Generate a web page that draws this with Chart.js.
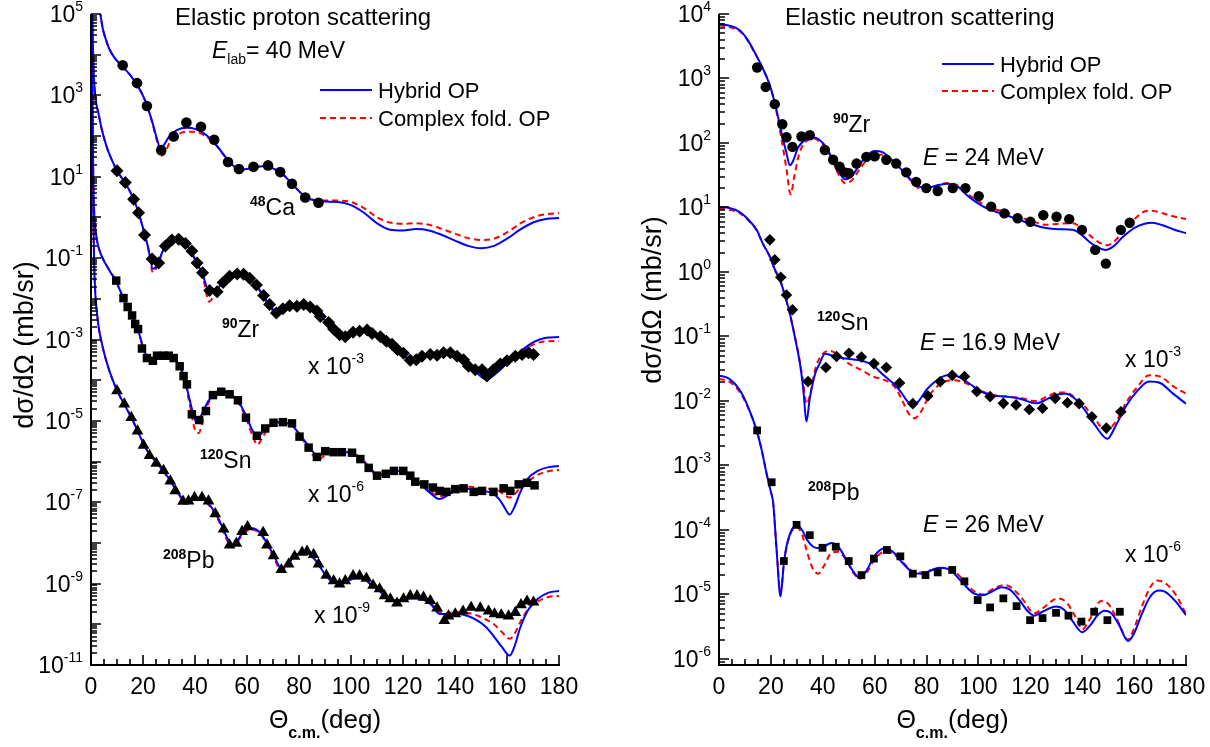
<!DOCTYPE html>
<html>
<head>
<meta charset="utf-8">
<script src="https://cdn.jsdelivr.net/npm/chart.js@4"></script>
<style>
body { margin: 0; background: #fff; width: 1210px; height: 747px; overflow: hidden; position: relative; }
canvas { position: absolute; top: 0; }
</style>
</head>
<body>
<canvas id="protonChart" width="605" height="747" style="left:0"></canvas>
<canvas id="neutronChart" width="605" height="747" style="left:605px"></canvas>
<script>
/*######################## datos: protones 40 MeV ########################*/
// [angulo c.m. (deg), dsigma/dOmega (mb/sr) ya escalado]
const ca48Exp = [[12.2,5500],[17.7,2000],[21.5,550],[27,45],[31.8,98],[36.7,215],[42.3,170],[47.4,81],[52.7,23],[56.9,15.5],[62.5,17.5],[68.1,19],[72.8,13],[77.3,6.7],[82.4,3.1],[87.5,2.3]];
const ca48Hybrid = [[3.4,1.2e5],[4.5,4.5e4],[5.5,2.6e4],[7,1.4e4],[9,8.5e3],[12,5.2e3],[15,3.2e3],[18,1.7e3],[21,700],[23.5,230],[25.5,80],[26.6,50],[28,60],[30,95],[33,140],[37,160],[40,150],[44,110],[48,62],[52,29],[55,18],[58,15],[62,16.5],[66,18],[70,16],[74,11],[78,6],[82,3.4],[86,2.6],[90,2.45],[95,2.4],[100,2.0],[105,1.3],[110,0.72],[115,0.5],[120,0.48],[125,0.52],[130,0.48],[135,0.37],[140,0.27],[145,0.2],[150,0.175],[155,0.2],[160,0.3],[165,0.5],[170,0.75],[175,0.92],[180,0.97]];
const ca48Folded = [[3.4,1.2e5],[4.5,4.5e4],[5.5,2.6e4],[7,1.4e4],[9,8.5e3],[12,5.2e3],[15,3.2e3],[18,1.7e3],[21,700],[23.5,220],[25.5,70],[26.9,33],[28.5,38],[30,65],[33,105],[37,128],[40,128],[44,100],[48,60],[52,29],[55,18],[58,15],[62,16.5],[66,18],[70,16],[74,11],[78,6],[82,3.4],[86,2.7],[90,2.6],[95,2.6],[100,2.4],[105,1.7],[110,1.0],[115,0.75],[120,0.7],[125,0.72],[130,0.66],[135,0.52],[140,0.4],[145,0.31],[150,0.28],[155,0.3],[160,0.43],[165,0.7],[170,1.0],[175,1.2],[180,1.28]];

const zr90pExp = [[10,14],[13.2,7.2],[16.4,2.8],[18.3,1.3],[20.6,0.37],[23.5,0.095],[26,0.076],[28.6,0.2],[31.1,0.28],[33.7,0.29],[36.3,0.23],[38.8,0.15],[40.8,0.076],[42.9,0.044],[45.6,0.016],[48.5,0.015],[50.8,0.025],[53.3,0.036],[56.2,0.041],[58.7,0.04],[61,0.032],[63.6,0.022],[66.4,0.012],[68.7,0.0072],[71.3,0.0045],[73.8,0.0057],[76.4,0.0068],[79.2,0.0066],[81.8,0.0072],[84.3,0.0063],[86.9,0.005],[88.2,0.0037],[91.4,0.0026],[93.3,0.0018],[95.6,0.0013],[97.8,0.00117],[100.8,0.0015],[103.3,0.0016],[106.2,0.0017],[108.1,0.0014],[111.3,0.00117],[113.6,0.00091],[115.8,0.00076],[117.9,0.00056],[120.2,0.00046],[122.8,0.00031],[125.1,0.00032],[127.3,0.00039],[130.5,0.00043],[133.1,0.00041],[135.6,0.00047],[138.2,0.00047],[140.8,0.00039],[143.3,0.00032],[145.2,0.00022],[147.8,0.00018],[150.4,0.00018],[152.3,0.000126],[154.8,0.00018],[157.4,0.00025],[160,0.0003],[163.2,0.00039],[165.8,0.00043],[168.3,0.00047],[170.2,0.00043]];
const zr90pHybrid = [[0.4,1.5e5],[0.7,2e4],[1,4e3],[1.5,1.2e3],[2,650],[2.8,380],[4,160],[6,55],[8,26],[10,14],[13,7.3],[16,3.2],[18,1.5],[20,0.55],[22,0.18],[23.8,0.055],[25,0.06],[26.5,0.1],[28,0.17],[31,0.27],[34,0.28],[37,0.21],[40,0.095],[43,0.038],[45.5,0.015],[48,0.016],[51,0.028],[54,0.039],[57,0.042],[60,0.035],[63,0.024],[66,0.013],[69,0.0066],[71.5,0.0047],[74,0.0052],[77,0.0064],[80,0.0066],[83,0.006],[86,0.0049],[89,0.0034],[92,0.0022],[95,0.0014],[98,0.0012],[101,0.0014],[104,0.0016],[107,0.0015],[110,0.0012],[114,0.00083],[118,0.00055],[122,0.00034],[125,0.00032],[128,0.00037],[132,0.00041],[136,0.00043],[140,0.00037],[144,0.00026],[148,0.00016],[152,0.000105],[156,0.00015],[160,0.00026],[165,0.0005],[170,0.00085],[175,0.0011],[180,0.00115]];
const zr90pFolded = [[0.4,1.5e5],[0.7,2e4],[1,4e3],[1.5,1.2e3],[2,650],[2.8,380],[4,160],[6,55],[8,26],[10,14],[13,7.3],[16,3.2],[18,1.5],[20,0.55],[22,0.17],[23.8,0.045],[25,0.055],[26.5,0.095],[28,0.16],[31,0.26],[34,0.27],[37,0.2],[40,0.09],[43,0.034],[45.5,0.0085],[47,0.011],[49,0.018],[51,0.026],[54,0.037],[57,0.04],[60,0.034],[63,0.023],[66,0.012],[69,0.006],[71.5,0.0045],[74,0.0052],[77,0.0064],[80,0.0066],[83,0.006],[86,0.0049],[89,0.0034],[92,0.0022],[95,0.0014],[98,0.0012],[101,0.0014],[104,0.0016],[107,0.0015],[110,0.0012],[114,0.00083],[118,0.00055],[122,0.00035],[125,0.00034],[128,0.00038],[132,0.00042],[136,0.00044],[140,0.00038],[144,0.00027],[148,0.00017],[152,0.00012],[156,0.00016],[160,0.00026],[165,0.00048],[170,0.00075],[175,0.0009],[180,0.00092]];

const sn120pExp = [[9.7,0.028],[12.5,0.0104],[14.1,0.0063],[15.8,0.0039],[17,0.0024],[18.1,0.0018],[19.6,0.0006],[21.5,0.00035],[23.8,0.0003],[25.4,0.0004],[27.9,0.0004],[29.9,0.0004],[31.8,0.00035],[34.1,0.00022],[35.6,0.000126],[36.9,0.000079],[38.8,1.45e-5],[41.6,1.05e-5],[44.2,1.75e-5],[46.9,4.3e-5],[50.1,5.2e-5],[53.3,4.5e-5],[56.5,3.2e-5],[59.6,1.2e-5],[63.8,4.3e-6],[67,6.5e-6],[70.2,9e-6],[73.8,9.3e-6],[77.3,8.7e-6],[80.2,4.1e-6],[83.7,2.2e-6],[86.9,1.3e-6],[90.1,1.8e-6],[93.3,1.7e-6],[96.5,1.7e-6],[100.4,1.65e-6],[103.6,1.15e-6],[106.8,7e-7],[110,4.5e-7],[113.4,5e-7],[116.5,5.9e-7],[120.1,5.9e-7],[122.8,4.5e-7],[124.7,3.2e-7],[128.2,2.75e-7],[131.5,2.3e-7],[134.1,1.9e-7],[136.7,1.8e-7],[140.1,2.1e-7],[143.3,2.2e-7],[147.2,1.8e-7],[150.4,1.9e-7],[154.8,1.8e-7],[158.7,2.2e-7],[161.3,1.9e-7],[164.5,2.75e-7],[167.7,3e-7],[170.6,2.6e-7]];
const sn120pHybrid = [[0.35,1.5e5],[0.6,300],[0.9,8],[1.3,1],[1.8,0.45],[2.6,0.22],[3.6,0.135],[5,0.085],[6.5,0.058],[8,0.04],[9.5,0.029],[11,0.017],[12.5,0.0105],[14,0.0066],[15.5,0.0042],[17,0.0026],[18.5,0.0014],[20,6.5e-4],[21.5,3.8e-4],[23,3e-4],[25,3.3e-4],[28,4e-4],[31,3.7e-4],[34,2.3e-4],[36,1.1e-4],[38,3.2e-5],[40,1.05e-5],[41,9e-6],[42.5,1.4e-5],[45,3e-5],[48,4.8e-5],[51,5.3e-5],[54,4.5e-5],[57,2.8e-5],[60,1.2e-5],[62,6e-6],[64,4.2e-6],[66,5.2e-6],[69,8e-6],[72,9.3e-6],[75,9e-6],[78,7e-6],[81,4e-6],[84,2.3e-6],[87,1.4e-6],[90,1.6e-6],[94,1.75e-6],[98,1.7e-6],[101,1.55e-6],[104,1.15e-6],[107,7e-7],[110,4.7e-7],[113,4.8e-7],[117,5.8e-7],[120,5.9e-7],[123,4.5e-7],[126,3e-7],[130,1.8e-7],[134,1.2e-7],[138,1.6e-7],[142,2.2e-7],[146,2.1e-7],[150,1.9e-7],[154,1.7e-7],[157,1.2e-7],[159,7.5e-8],[161,5e-8],[163,8e-8],[165,1.7e-7],[168,3.8e-7],[172,6e-7],[176,7.3e-7],[180,7.8e-7]];
const sn120pFolded = [[0.35,1.5e5],[0.6,300],[0.9,8],[1.3,1],[1.8,0.45],[2.6,0.22],[3.6,0.135],[5,0.085],[6.5,0.058],[8,0.04],[9.5,0.029],[11,0.017],[12.5,0.0105],[14,0.0066],[15.5,0.0042],[17,0.0026],[18.5,0.0014],[20,6.5e-4],[21.5,3.8e-4],[23,3e-4],[25,3.2e-4],[28,3.9e-4],[31,3.6e-4],[34,2.2e-4],[36,1e-4],[38,2.5e-5],[40,6e-6],[41.4,5e-6],[43,1e-5],[45,2.6e-5],[48,4.6e-5],[51,5.2e-5],[54,4.4e-5],[57,2.6e-5],[60,1e-5],[62,4.5e-6],[64,2.6e-6],[66,4e-6],[69,7.5e-6],[72,9.3e-6],[75,9e-6],[78,7e-6],[81,3.8e-6],[84,2e-6],[87,1.1e-6],[90,1.4e-6],[94,1.75e-6],[98,1.75e-6],[101,1.6e-6],[104,1.2e-6],[107,7.5e-7],[110,5e-7],[113,5e-7],[117,5.9e-7],[120,6e-7],[123,4.7e-7],[126,3.2e-7],[130,2e-7],[134,1.4e-7],[138,1.8e-7],[142,2.3e-7],[146,2.4e-7],[150,2.2e-7],[154,2.1e-7],[157,1.9e-7],[159,1.5e-7],[161,1.3e-7],[163,1.6e-7],[165,2.2e-7],[168,3.2e-7],[172,4.8e-7],[176,5.8e-7],[180,6.2e-7]];

const pb208pExp = [[10,5.5e-5],[12.8,2.6e-5],[15.5,1.2e-5],[17.9,5.6e-6],[20.2,2.5e-6],[22.5,1.4e-6],[25.1,9e-7],[27.9,6e-7],[30.5,3.3e-7],[32.4,1.9e-7],[35.4,1.05e-7],[37.5,1.07e-7],[39.8,1.3e-7],[42.7,1.3e-7],[45.2,1.07e-7],[47.8,5.2e-8],[51,2.2e-8],[53.3,8.9e-9],[55.9,9.8e-9],[58.1,1.9e-8],[60.2,2.5e-8],[66.2,1.8e-8],[67.7,8.9e-9],[70.2,4.8e-9],[73.2,2.2e-9],[76,3e-9],[78.3,4.7e-9],[81.2,5.9e-9],[83.1,6.2e-9],[85.6,5.2e-9],[87.5,3e-9],[90.5,1.6e-9],[93.3,1.17e-9],[95.6,9.8e-10],[97.8,1.17e-9],[100.8,1.55e-9],[103.3,1.55e-9],[105.9,1.35e-9],[108.5,9.1e-10],[111,7.4e-10],[112.9,5e-10],[115.1,4.2e-10],[117.7,3.3e-10],[120.2,4.2e-10],[122.8,5e-10],[125.4,5e-10],[127.9,4.6e-10],[130.5,3.8e-10],[133.1,2.5e-10],[135.9,1.23e-10],[137.5,1.6e-10],[140.1,1.8e-10],[143.1,2.1e-10],[146.2,2.6e-10],[149.7,2.5e-10],[152.9,2.1e-10],[155.2,1.8e-10],[157.8,1.7e-10],[160.6,1.6e-10],[163.2,1.95e-10],[165.4,3e-10],[167.7,3.7e-10],[170.2,3.5e-10]];
const pb208pHybrid = [[0.25,1.5e5],[0.5,300],[0.8,3],[1.2,0.08],[1.7,0.012],[2.3,0.0045],[3,0.0019],[4,9e-4],[5,4.8e-4],[6,2.8e-4],[8,1.15e-4],[10,5.6e-5],[13,2.4e-5],[16,1.05e-5],[19,4e-6],[22,1.7e-6],[25,1e-6],[28,5.8e-7],[31,3e-7],[34,1.5e-7],[37,1.1e-7],[40,1.25e-7],[43,1.2e-7],[46,8e-8],[49,4e-8],[52,1.5e-8],[54,9e-9],[56,1.1e-8],[59,2e-8],[62,2.3e-8],[65,1.8e-8],[68,9e-9],[71,4e-9],[73,2.4e-9],[75,2.7e-9],[78,4.5e-9],[81,5.8e-9],[84,5.3e-9],[87,3.3e-9],[90,1.7e-9],[93,1.1e-9],[96,1e-9],[99,1.2e-9],[102,1.35e-9],[105,1.3e-9],[108,9e-10],[111,6.5e-10],[114,4.5e-10],[117,3.8e-10],[120,4e-10],[124,4.4e-10],[128,4e-10],[131,3e-10],[134,1.8e-10],[137,1.8e-10],[141,1.8e-10],[145,1.6e-10],[149,1.2e-10],[152,8.5e-11],[155,5e-11],[158,2.8e-11],[161,1.7e-11],[163,3e-11],[165,8e-11],[168,2.2e-10],[172,4.3e-10],[176,6e-10],[180,6.6e-10]];
const pb208pFolded = [[0.25,1.5e5],[0.5,300],[0.8,3],[1.2,0.08],[1.7,0.012],[2.3,0.0045],[3,0.0019],[4,9e-4],[5,4.8e-4],[6,2.8e-4],[8,1.15e-4],[10,5.6e-5],[13,2.4e-5],[16,1.05e-5],[19,4e-6],[22,1.7e-6],[25,1e-6],[28,5.6e-7],[31,2.9e-7],[34,1.4e-7],[37,1e-7],[40,1.15e-7],[43,1.12e-7],[46,7.5e-8],[49,3.6e-8],[52,1.3e-8],[54,8e-9],[56,1e-8],[59,1.8e-8],[62,2.1e-8],[65,1.7e-8],[68,8.5e-9],[71,3.5e-9],[73,2.1e-9],[75,2.5e-9],[78,4.4e-9],[81,5.7e-9],[84,5.3e-9],[87,3.3e-9],[90,1.7e-9],[93,1.1e-9],[96,1e-9],[99,1.2e-9],[102,1.35e-9],[105,1.3e-9],[108,9e-10],[111,6.5e-10],[114,4.6e-10],[117,3.9e-10],[120,4.1e-10],[124,4.5e-10],[128,4.1e-10],[131,3.1e-10],[134,2e-10],[137,1.9e-10],[141,2e-10],[145,1.9e-10],[149,1.6e-10],[152,1.3e-10],[155,1e-10],[158,6.5e-11],[161,4.4e-11],[163,6e-11],[165,1.1e-10],[168,2.3e-10],[172,3.7e-10],[176,4.7e-10],[180,5e-10]];

/*######################## datos: neutrones ########################*/
const zr90nExp = [[14.7,1480],[18,740],[21.5,400],[24.4,195],[26,123],[28.3,87],[31.8,126],[35,132],[40.8,78],[44,55],[46.5,43],[48.5,35],[50.1,34],[53,48],[56.8,61],[60,62],[64.5,55],[68.3,48],[72.2,35],[76,25],[79.9,20],[84.3,18],[90.1,20],[95,20],[100.1,15],[104.9,10.3],[110,8.1],[115.1,6.8],[120,6],[125,7.6],[130.1,7.2],[135,6.6],[139.9,4.5],[145,2.2],[149.1,1.35],[154.9,4.5],[158.3,5.8]];
const zr90nHybrid = [[0,7000],[4,6600],[8,5600],[11,4000],[13.2,2800],[16,1700],[18.3,1070],[20,700],[22.2,320],[24,150],[26,70],[27.3,45],[28.5,52],[30.5,85],[33,110],[36.3,123],[40,100],[43,65],[46,37],[48.5,27.5],[51,30],[54,45],[57,64],[60,75],[63,72],[66,58],[70,40],[74,27],[77.3,21],[80,20],[84,22],[88.2,23.4],[92,21],[96,15],[100,11.5],[103,9.8],[107,8.5],[110.7,7.6],[115,6.6],[120,5.6],[126,4.8],[131,4.6],[136.3,4.5],[140,3.7],[142.7,2.95],[146,2.4],[149,2.2],[152,2.5],[156,3.6],[160,4.8],[164,5.6],[167,5.8],[171,5.3],[175,4.6],[180,4.0]];
const zr90nFolded = [[0,6700],[4,6300],[8,5400],[11,3900],[13.2,2750],[16,1700],[18.3,1070],[20,700],[22.2,300],[24,120],[26,40],[27.6,16],[29,30],[31,70],[33.5,105],[36,118],[40,95],[43,62],[46,33],[48.5,24],[51,26],[54,38],[57,55],[60,65],[63,66],[66,55],[70,40],[74,26],[77.3,20],[80,20],[84,22],[88,24],[92,22],[96,16],[100,12.5],[103,10.5],[106,9.5],[109.4,8.7],[115,7.3],[120,6.3],[126,5.4],[131,5.6],[136.3,5.7],[140,4.7],[144,3.4],[147,2.8],[149.7,2.6],[152,2.9],[156,4.3],[160,6.5],[163,8.3],[165.8,8.9],[169,8.6],[173,7.7],[177,7.0],[180,6.6]];

const sn120nExp = [[19.6,3.15],[21.5,1.55],[23.8,0.83],[26,0.44],[28.3,0.26],[34.3,0.02],[41.2,0.033],[45.3,0.049],[50.1,0.055],[54.9,0.048],[59.7,0.038],[64.5,0.033],[69.6,0.019],[74.7,0.0091],[80.5,0.012],[85.3,0.02],[89.9,0.025],[94.6,0.024],[99.4,0.014],[104.5,0.0117],[109.6,0.0092],[114.5,0.0087],[119.6,0.0074],[124.7,0.0077],[129.6,0.011],[134.3,0.0094],[138.8,0.0091],[143.7,0.0057],[149.3,0.0038],[154.9,0.0068]];
const sn120nHybrid = [[0,10.2],[4,9.8],[8,8.5],[11,6.7],[14.5,4.5],[17,2.7],[19.6,1.75],[21.5,1.1],[23.5,0.76],[25.5,0.42],[27.3,0.23],[29.3,0.095],[31.2,0.038],[32.5,0.015],[33.7,0.0048],[35,0.011],[37,0.026],[38.8,0.038],[40.8,0.054],[44,0.05],[48,0.046],[52,0.044],[56,0.041],[59.3,0.036],[63,0.026],[67,0.019],[70,0.014],[72.5,0.01],[74.7,0.0087],[77,0.01],[80,0.015],[84,0.021],[88,0.025],[90.1,0.025],[93,0.023],[97,0.018],[101,0.014],[105,0.0123],[110.7,0.0117],[116,0.0108],[122.2,0.0092],[127,0.011],[130,0.0125],[133.7,0.013],[137,0.011],[141,0.0072],[145,0.0042],[149.7,0.0026],[153,0.0042],[157,0.0085],[161,0.014],[165.8,0.02],[170,0.019],[175,0.013],[180,0.0091]];
const sn120nFolded = [[0,9.6],[4,9.2],[8,8.2],[11,6.5],[14.5,4.4],[17,2.7],[19.6,1.7],[21.5,1.08],[23.5,0.74],[25.5,0.42],[27.3,0.22],[29.3,0.1],[31.2,0.04],[32.5,0.019],[33.7,0.009],[35,0.012],[37,0.03],[39,0.048],[42.7,0.06],[46,0.052],[50,0.038],[55,0.03],[59.3,0.024],[64,0.021],[68,0.016],[71,0.0095],[73,0.0065],[75.4,0.0054],[78,0.007],[81,0.012],[85,0.018],[90.1,0.021],[95,0.019],[100,0.015],[105,0.0125],[110.7,0.0117],[116,0.0112],[122,0.01],[127,0.012],[130,0.0135],[133.7,0.0135],[137,0.0115],[141,0.0082],[145,0.0052],[149,0.0035],[153,0.0048],[157,0.0095],[161,0.016],[165.8,0.025],[170,0.024],[175,0.017],[180,0.013]];

const pb208nExp = [[14.7,0.0035],[20.3,5.5e-4],[25,3.3e-5],[29.9,1.2e-4],[35,8.3e-5],[39.9,5.3e-5],[45,5.5e-5],[50,3.3e-5],[54.9,2e-5],[59.7,3.6e-5],[64.7,4.9e-5],[69.9,3.9e-5],[74.7,2.1e-5],[79.6,2e-5],[84.3,2.2e-5],[89.9,2.4e-5],[94.6,1.6e-5],[99.7,8.2e-6],[104.5,6.3e-6],[109.6,8.7e-6],[114.7,6.6e-6],[119.9,4e-6],[124.7,4.3e-6],[129.9,5.2e-6],[134.7,4.7e-6],[139.7,3.8e-6],[144.6,5.4e-6],[149.7,4e-6],[154.5,5.4e-6]];
const pb208nHybrid = [[0,0.025],[4,0.022],[8,0.0148],[11,0.0085],[14.5,0.0035],[16.5,0.0017],[18.3,7.6e-4],[20,3.9e-4],[20.9,2.6e-4],[22.2,4.9e-5],[23.7,9.3e-6],[25,3e-5],[26,5.5e-5],[28,1e-4],[29.9,1.2e-4],[32,1e-4],[34,7e-5],[36.3,5.5e-5],[39,5.2e-5],[43.3,6.3e-5],[46,5.5e-5],[49,3.5e-5],[52,2.2e-5],[54.2,1.8e-5],[57,2.4e-5],[60,4e-5],[63.8,5.2e-5],[67,4.6e-5],[71,3e-5],[74.7,2.2e-5],[78,2.1e-5],[81,2.3e-5],[85,2.6e-5],[89,2.4e-5],[94,1.5e-5],[98,1.05e-5],[101.7,9.7e-6],[105,1.1e-5],[108.7,1.3e-5],[112,1.2e-5],[116,8e-6],[119,5.5e-6],[121.5,4.7e-6],[125,5.5e-6],[129.9,6.5e-6],[133,5.8e-6],[136,4e-6],[140.1,2.6e-6],[143,3.3e-6],[146,4.8e-6],[148.5,5.6e-6],[151,5.2e-6],[154,3.5e-6],[157.7,1.9e-6],[160,2.5e-6],[163,5e-6],[166,9e-6],[169.4,1.15e-5],[172,1.1e-5],[176,7.8e-6],[180,4.8e-6]];
const pb208nFolded = [[0,0.022],[4,0.02],[8,0.0138],[11,0.0082],[14.5,0.0035],[16.5,0.0017],[18.3,7.6e-4],[20,3.9e-4],[20.9,2.6e-4],[22.2,5e-5],[23.7,1.1e-5],[25,3e-5],[26,5.3e-5],[28,9.5e-5],[29.9,1.12e-4],[32,8.5e-5],[34,4.5e-5],[36,2.6e-5],[38.2,2.1e-5],[40.5,2.8e-5],[43.3,4.4e-5],[46,4.6e-5],[49,3.4e-5],[52,2.1e-5],[54.5,1.75e-5],[57,2.2e-5],[60,3.5e-5],[63.8,4.6e-5],[67,4.3e-5],[71,3.1e-5],[74.7,2.3e-5],[78,2.2e-5],[82,2.4e-5],[86,2.6e-5],[90,2.4e-5],[94,1.7e-5],[98,1.15e-5],[101.7,1e-5],[106,1.25e-5],[110,1.4e-5],[113,1.25e-5],[117,8.5e-6],[121.5,5.1e-6],[125,6.2e-6],[130.5,8.7e-6],[134,7.5e-6],[137,4.8e-6],[140.1,2.9e-6],[143,4.2e-6],[147.2,7.9e-6],[150,7.2e-6],[153,4.5e-6],[157.7,2e-6],[160,3e-6],[163,6.5e-6],[166,1.25e-5],[168.7,1.65e-5],[172,1.5e-5],[176,1e-5],[180,5e-6]];

// ejes
const angleTicks = [0, 20, 40, 60, 80, 100, 120, 140, 160, 180];
const protonDecadeLabels = [5, 3, 1, -1, -3, -5, -7, -9, -11];
const neutronDecadeLabels = [4, 3, 2, 1, 0, -1, -2, -3, -4, -5, -6];

const FONT = "'Liberation Sans', Arial, Helvetica, sans-serif";
const BLUE = '#0000ff';
const RED = '#ff0000';

function xy(arr) { return arr.map(p => ({ x: p[0], y: p[1] })); }

function expSet(arr, style, radius) {
	return { type: 'scatter', data: xy(arr), pointStyle: style, pointRadius: radius, pointHoverRadius: radius,
		backgroundColor: '#000', borderColor: '#000', borderWidth: 0, showLine: false, order: 0 };
}
function curveSet(arr, color, dash) {
	return { type: 'line', data: xy(arr), borderColor: color, borderWidth: 2, borderDash: dash,
		pointRadius: 0, fill: false, cubicInterpolationMode: 'monotone', order: 1 };
}

function fontOf(p) {
	return (p.i ? 'italic ' : '') + (p.b ? 'bold ' : '') + p.s + 'px ' + FONT;
}
// texto con sub/superindices: parts = [{t, s, b, i, dy}]
function drawParts(ctx, x, y, parts, align) {
	let total = 0;
	parts.forEach(p => { ctx.font = fontOf(p); p.w = ctx.measureText(p.t).width; total += p.w; });
	let cx = align === 'right' ? x - total : align === 'center' ? x - total / 2 : x;
	parts.forEach(p => { ctx.font = fontOf(p); ctx.fillText(p.t, cx, y + (p.dy || 0)); cx += p.w; });
}

// ejes al estilo Origin: solo izquierda y abajo, marcas hacia dentro
const sciAxes = {
	id: 'sciAxes',
	afterDatasetsDraw(chart, args, o) {
		const ctx = chart.ctx, a = chart.chartArea, xs = chart.scales.x, ys = chart.scales.y;
		ctx.save();
		ctx.strokeStyle = '#000';
		ctx.fillStyle = '#000';
		ctx.lineWidth = 2;
		ctx.beginPath();
		ctx.moveTo(a.left, a.top);
		ctx.lineTo(a.left, a.bottom);
		ctx.lineTo(a.right + 1, a.bottom);
		ctx.stroke();

		ctx.lineWidth = 1.6;
		ctx.beginPath();
		for (let v = 0; v <= 180; v += 5) {
			const px = Math.round(xs.getPixelForValue(v));
			const len = v % 20 === 0 ? 10 : 6;
			ctx.moveTo(px, a.bottom);
			ctx.lineTo(px, a.bottom - len);
		}
		const lo = Math.floor(Math.log10(ys.min)), hi = Math.ceil(Math.log10(ys.max));
		for (let e = lo; e <= hi; e++) {
			for (let m = 1; m < 10; m++) {
				const v = m * Math.pow(10, e);
				if (v < ys.min * 0.999 || v > ys.max * 1.001) continue;
				const py = Math.round(ys.getPixelForValue(v));
				ctx.moveTo(a.left, py);
				ctx.lineTo(a.left + (m === 1 ? 10 : 6), py);
			}
		}
		ctx.stroke();

		ctx.textBaseline = 'alphabetic';
		ctx.textAlign = 'left';
		angleTicks.forEach(v => {
			drawParts(ctx, xs.getPixelForValue(v), a.bottom + 29, [{ t: String(v), s: 23 }], 'center');
		});
		o.decades.forEach(e => {
			const py = ys.getPixelForValue(Math.pow(10, e));
			drawParts(ctx, a.left - 8, py + 8, [{ t: '10', s: 23 }, { t: String(e), s: 14, dy: -11 }], 'right');
		});

		// titulos de ejes
		const cx = (a.left + a.right) / 2;
		drawParts(ctx, cx, a.bottom + 63, [
			{ t: '\u0398', s: 25 }, { t: 'c.m.', s: 16, b: true, dy: 10 }, { t: '(deg)', s: 26 }
		], 'center');
		ctx.translate(o.yTitle[0], o.yTitle[1]);
		ctx.rotate(-Math.PI / 2);
		drawParts(ctx, 0, 0, [{ t: 'd\u03c3/d\u03a9 (mb/sr)', s: 27 }], 'center');
		ctx.restore();
	}
};

// textos, leyenda y etiquetas de nucleos
const notesPlugin = {
	id: 'notes',
	afterDraw(chart, args, o) {
		const ctx = chart.ctx;
		ctx.save();
		ctx.fillStyle = '#000';
		ctx.textBaseline = 'alphabetic';
		ctx.textAlign = 'left';
		o.items.forEach(n => drawParts(ctx, n.x, n.y, n.parts, n.align || 'left'));
		o.legend.forEach(l => {
			ctx.strokeStyle = l.color;
			ctx.lineWidth = 2;
			ctx.setLineDash(l.dash);
			ctx.beginPath();
			ctx.moveTo(l.x, l.y);
			ctx.lineTo(l.x + 52, l.y);
			ctx.stroke();
			ctx.setLineDash([]);
			drawParts(ctx, l.x + 58, l.y + 8, [{ t: l.text, s: 22 }], 'left');
		});
		ctx.restore();
	}
};

function nucleus(x, y, mass, sym) {
	return { x: x, y: y, parts: [{ t: mass, s: 14, b: true, dy: -9 }, { t: sym, s: 23 }] };
}
function factor(x, y, e) {
	return { x: x, y: y, parts: [{ t: 'x 10', s: 23 }, { t: String(e), s: 14, dy: -11 }] };
}
function energy(x, y, txt) {
	return { x: x, y: y, parts: [{ t: 'E', s: 23, i: true }, { t: ' = ' + txt, s: 23 }] };
}

function makeChart(id, pad, yMin, yMax, datasets, decades, yTitle, items, legend) {
	return new Chart(document.getElementById(id), {
		type: 'line',
		data: { datasets: datasets },
		options: {
			responsive: false,
			animation: false,
			devicePixelRatio: 1,
			layout: { padding: pad },
			plugins: {
				legend: { display: false },
				tooltip: { enabled: false },
				sciAxes: { decades: decades, yTitle: yTitle },
				notes: { items: items, legend: legend }
			},
			scales: {
				x: { type: 'linear', min: 0, max: 180, display: false },
				y: { type: 'logarithmic', min: yMin, max: yMax, display: false }
			}
		},
		plugins: [sciAxes, notesPlugin]
	});
}

const dashed = [6, 4];

makeChart('protonChart', { left: 91, right: 46, top: 14, bottom: 82 }, 1e-11, 1e5, [
	expSet(ca48Exp, 'circle', 5.3),
	expSet(zr90pExp, 'rectRot', 6.5),
	expSet(sn120pExp, 'rect', 6),
	expSet(pb208pExp, 'triangle', 6.8),
	curveSet(ca48Hybrid, BLUE, []), curveSet(ca48Folded, RED, dashed),
	curveSet(zr90pHybrid, BLUE, []), curveSet(zr90pFolded, RED, dashed),
	curveSet(sn120pHybrid, BLUE, []), curveSet(sn120pFolded, RED, dashed),
	curveSet(pb208pHybrid, BLUE, []), curveSet(pb208pFolded, RED, dashed)
], protonDecadeLabels, [33, 345], [
	{ x: 175, y: 25, parts: [{ t: 'Elastic proton scattering', s: 24 }] },
	{ x: 212, y: 58, parts: [{ t: 'E', s: 23, i: true }, { t: 'lab', s: 14, dy: 6 }, { t: '= 40 MeV', s: 23 }] },
	nucleus(250, 215, '48', 'Ca'),
	nucleus(222, 337, '90', 'Zr'),
	factor(308, 374, -3),
	nucleus(200, 468, '120', 'Sn'),
	factor(308, 502, -6),
	nucleus(163, 568, '208', 'Pb'),
	factor(314, 623, -9)
], [
	{ x: 320, y: 90, color: BLUE, dash: [], text: 'Hybrid OP' },
	{ x: 320, y: 118, color: RED, dash: dashed, text: 'Complex fold. OP' }
]);

makeChart('neutronChart', { left: 114, right: 24, top: 14, bottom: 82 }, 8.07e-7, 1e4, [
	expSet(zr90nExp, 'circle', 5.2),
	expSet(sn120nExp, 'rectRot', 5.8),
	expSet(pb208nExp, 'rect', 5.5),
	curveSet(zr90nHybrid, BLUE, []), curveSet(zr90nFolded, RED, dashed),
	curveSet(sn120nHybrid, BLUE, []), curveSet(sn120nFolded, RED, dashed),
	curveSet(pb208nHybrid, BLUE, []), curveSet(pb208nFolded, RED, dashed)
], neutronDecadeLabels, [56, 300], [
	{ x: 180, y: 25, parts: [{ t: 'Elastic neutron scattering', s: 24 }] },
	nucleus(228, 132, '90', 'Zr'),
	energy(318, 165, '24 MeV'),
	nucleus(212, 330, '120', 'Sn'),
	energy(315, 350, '16.9 MeV'),
	factor(520, 367, -3),
	nucleus(203, 500, '208', 'Pb'),
	energy(318, 532, '26 MeV'),
	factor(520, 562, -6)
], [
	{ x: 337, y: 64, color: BLUE, dash: [], text: 'Hybrid OP' },
	{ x: 337, y: 91, color: RED, dash: dashed, text: 'Complex fold. OP' }
]);
</script>
</body>
</html>
